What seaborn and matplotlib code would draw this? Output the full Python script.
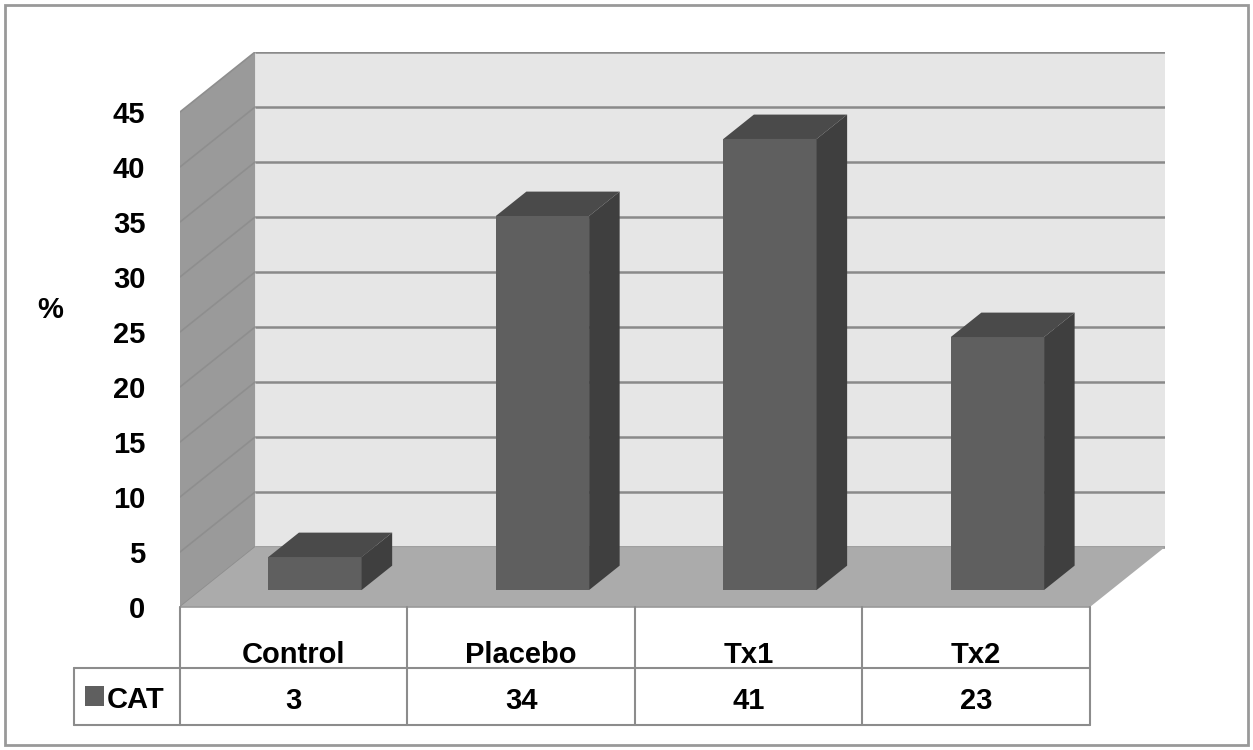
import matplotlib
matplotlib.use("Agg")
import matplotlib.pyplot as plt
import matplotlib.transforms as mtransforms
from matplotlib.patches import Polygon, Rectangle
import seaborn as sns
import pandas as pd

# ---- data ----
categories = ["Control", "Placebo", "Tx1", "Tx2"]
values = [3, 34, 41, 23]
series_name = "CAT"
y_ticks = [0, 5, 10, 15, 20, 25, 30, 35, 40, 45]
y_label = "%"

# ---- styling ----
FRONT = "#5f5f5f"
TOP = "#4a4a4a"
SIDE = "#3f3f3f"
BACK_WALL = "#e6e6e6"
SIDE_WALL = "#9a9a9a"
FLOOR = "#ababab"
GRID = "#8a8a8a"
TABLE_LINE = "#8c8c8c"
FS = 21

sns.set_style("white")
plt.rcParams["font.family"] = ["Liberation Sans", "DejaVu Sans"]
plt.rcParams["font.weight"] = "bold"
plt.rcParams["text.color"] = "black"
plt.rcParams["ytick.color"] = "black"
plt.rcParams["ytick.labelcolor"] = "black"

W, H = 1253, 750
fig = plt.figure(figsize=(W / 100, H / 100), dpi=100)

# plot box in pixel units (left, bottom-from-top, right, top-from-top)
PX_L, PX_B, PX_R, PX_T = 180, 607, 1165, 52
ax = fig.add_axes([PX_L / W, (H - PX_B) / H, (PX_R - PX_L) / W, (PX_B - PX_T) / H])

YMAX = 45
DX, DY = 0.33, 5.45          # depth of the 3-D box in data units
F0, F1 = 0.283, 0.69         # front / back depth fraction of the columns

df = pd.DataFrame({"cat": categories, "val": values})
sns.barplot(data=df, x="cat", y="val", order=categories, color=FRONT,
            width=0.41, saturation=1, linewidth=0, ax=ax, zorder=3)

x0, x1 = -0.5, len(categories) - 0.5
ax.set_xlim(x0, x1 + DX)
ax.set_ylim(0, YMAX + DY)

# back wall, side wall and floor
ax.add_patch(Rectangle((x0 + DX, DY), x1 - x0, YMAX, facecolor=BACK_WALL,
                       edgecolor="none", zorder=0))
ax.add_patch(Polygon([(x0, 0), (x0, YMAX), (x0 + DX, YMAX + DY), (x0 + DX, DY)],
                     closed=True, facecolor=SIDE_WALL, edgecolor="none", zorder=0))
ax.add_patch(Polygon([(x0, 0), (x1, 0), (x1 + DX, DY), (x0 + DX, DY)],
                     closed=True, facecolor=FLOOR, edgecolor="none", zorder=1))
for t in y_ticks:
    ax.plot([x0 + DX, x1 + DX], [t + DY, t + DY], color=GRID, lw=1.8,
            zorder=0.5, solid_capstyle="butt")
    ax.plot([x0, x0 + DX], [t, t + DY], color="#8e8e8e", lw=1.2, zorder=0.6)
ax.plot([x0, x1], [0, 0], color="#999999", lw=1.2, zorder=1.2, clip_on=False)

# columns: shift the front faces into the box and add top / side faces
shift = mtransforms.Affine2D().translate(F0 * DX, F0 * DY) + ax.transData
for bar in ax.containers[0]:
    bar.set_transform(shift)
    left, w, v = bar.get_x(), bar.get_width(), bar.get_height()
    right = left + w
    top_face = [(left + F0 * DX, v + F0 * DY), (right + F0 * DX, v + F0 * DY),
                (right + F1 * DX, v + F1 * DY), (left + F1 * DX, v + F1 * DY)]
    side_face = [(right + F0 * DX, F0 * DY), (right + F0 * DX, v + F0 * DY),
                 (right + F1 * DX, v + F1 * DY), (right + F1 * DX, F1 * DY)]
    ax.add_patch(Polygon(top_face, closed=True, facecolor=TOP, edgecolor="none", zorder=3))
    ax.add_patch(Polygon(side_face, closed=True, facecolor=SIDE, edgecolor="none", zorder=3))

# axes decoration
for s in ax.spines.values():
    s.set_visible(False)
ax.set_yticks(y_ticks)
ax.set_yticklabels([str(t) for t in y_ticks], fontsize=FS, fontweight="bold",
                   color="black")
ax.tick_params(axis="y", length=0, pad=25)
ax.set_xticks([])
ax.set_xlabel("")
ax.set_ylabel("")
ax.grid(False)
ax.set_facecolor("none")

fig.text(50 / W, 1 - 310 / H, y_label, fontsize=FS, fontweight="bold",
         ha="center", va="center")

# data table under the plot
blend = mtransforms.blended_transform_factory(ax.transData, fig.transFigure)
def fy(py):
    return 1 - py / H

row_top, row_mid, row_bot = 607, 668, 725
for b in [x0 + k for k in range(len(categories) + 1)]:
    ax.plot([b, b], [fy(row_top), fy(row_bot)], color=TABLE_LINE, lw=1.5,
            transform=blend, clip_on=False)
ax.plot([x0, x1], [fy(row_mid), fy(row_mid)], color=TABLE_LINE, lw=1.5,
        transform=blend, clip_on=False)
ax.plot([x0, x1], [fy(row_bot), fy(row_bot)], color=TABLE_LINE, lw=1.5,
        transform=blend, clip_on=False)

# legend cell on the left of the value row
lx = 74 / W
fig.add_artist(plt.Line2D([lx, PX_L / W], [fy(row_mid), fy(row_mid)], color=TABLE_LINE, lw=1.5))
fig.add_artist(plt.Line2D([lx, PX_L / W], [fy(row_bot), fy(row_bot)], color=TABLE_LINE, lw=1.5))
fig.add_artist(plt.Line2D([lx, lx], [fy(row_mid), fy(row_bot)], color=TABLE_LINE, lw=1.5))
fig.add_artist(Rectangle((85 / W, fy(706)), 19 / W, 20 / H, transform=fig.transFigure,
                         facecolor=FRONT, edgecolor="none"))
fig.text(107 / W, fy(708), series_name, fontsize=FS, fontweight="bold",
         ha="left", va="baseline")

for i, (c, v) in enumerate(zip(categories, values)):
    ax.text(i, fy(663), c, fontsize=FS, fontweight="bold", ha="center",
            va="baseline", transform=blend)
    ax.text(i, fy(709), str(v), fontsize=FS, fontweight="bold", ha="center",
            va="baseline", transform=blend)

# outer frame
fig.add_artist(Rectangle((5 / W, 5 / H), (W - 10) / W, (H - 10) / H,
                         transform=fig.transFigure, facecolor="none",
                         edgecolor="#999999", lw=2))

fig.savefig("out.png", dpi=100, facecolor="white")
